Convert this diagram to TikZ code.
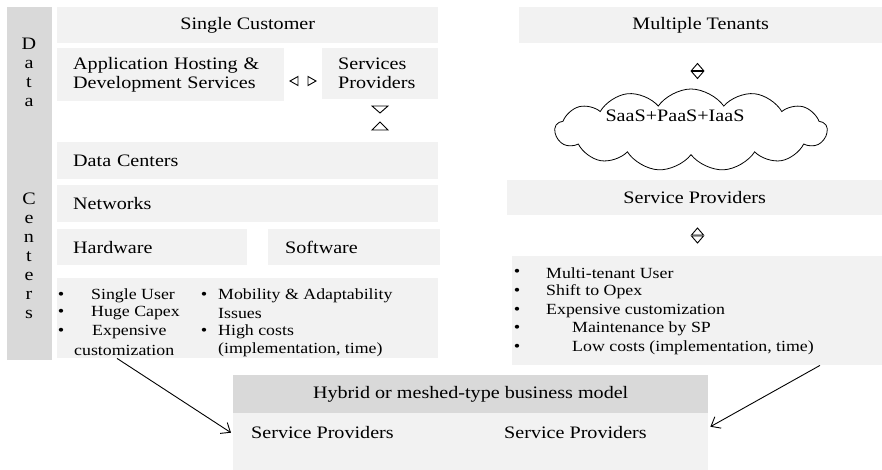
\documentclass[tikz,border=0pt]{standalone}
\usepackage{fontspec}
\setmainfont{Liberation Serif}[FakeStretch=1.15]
\usepackage{tikz}
\usetikzlibrary{shapes.symbols,arrows.meta,positioning}
\definecolor{panelgray}{HTML}{F2F2F2}
\definecolor{bargray}{HTML}{D9D9D9}

\begin{document}
\begin{tikzpicture}[
    x=1pt, y=-1pt,
    font=\fontsize{17.5}{19}\selectfont,
    panel/.style={fill=panelgray, anchor=north west, inner sep=0pt},
    bar/.style={fill=bargray, anchor=north west, inner sep=0pt},
    lefttext/.style={align=left, inner xsep=16pt},
    itemtext/.style={font=\fontsize{15.5}{18}\selectfont, anchor=west, inner sep=0pt},
    dot/.style={font=\fontsize{16}{16}\selectfont, inner sep=0pt},
    tri/.style={draw, line width=0.9pt, line join=miter},
    arrow/.style={-{Straight Barb[length=8pt, width=13pt]}, line width=0.9pt},
    trileft/.pic={\draw[tri] (4,-4.5) -- (4,4.5) -- (-4,0) -- cycle;},
    triright/.pic={\draw[tri] (-4,-4.5) -- (-4,4.5) -- (4,0) -- cycle;},
    triupwide/.pic={\draw[tri] (-8,4) -- (8,4) -- (0,-4) -- cycle;},
    tridownwide/.pic={\draw[tri] (-8,-3.5) -- (8,-3.5) -- (0,3.5) -- cycle;},
    triup/.pic={\draw[tri] (-6,3.5) -- (6,3.5) -- (0,-3.5) -- cycle;},
    tridown/.pic={\draw[tri] (-6,-3.5) -- (6,-3.5) -- (0,3.5) -- cycle;}
]
\useasboundingbox (0,0) rectangle (882,470);

% data centre side bar
\node[bar, minimum width=45pt, minimum height=353pt] (side) at (7,7) {};
\node[align=center] (dword) at (29,72) {D\\a\\t\\a};
\node[align=center] (cword) at (29,256) {C\\e\\n\\t\\e\\r\\s};

% single customer stack
\node[panel, minimum width=381pt, minimum height=36pt] (single) at (57,7) {Single Customer};
\node[panel, lefttext, minimum height=53pt, text width=195pt] (apphost) at (57,48) {Application Hosting \&\\Development Services};
\node[panel, lefttext, minimum height=51pt, text width=84pt] (svcprov) at (322,48) {Services\\Providers};
\node[panel, lefttext, minimum height=37pt, text width=349pt] (dcenter) at (57,142) {Data Centers};
\node[panel, lefttext, minimum height=37pt, text width=349pt] (network) at (57,185) {Networks};
\node[panel, lefttext, minimum height=36pt, text width=158pt] (hardware) at (57,229) {Hardware};
\node[panel, lefttext, minimum height=36pt, text width=138pt, inner xsep=17pt] (software) at (268,229) {Software};
\node[panel, minimum width=381pt, minimum height=80pt] (lbul) at (57,278) {};

\pic at (294,81) {trileft};
\pic at (312,81) {triright};
\pic at (380,109.5) {tridownwide};
\pic at (380,126) {triupwide};

\foreach \y [count=\i] in {296,313,332}
  \node[dot] (ldot\i) at (61,\y) {•};
\foreach \t/\x/\y [count=\i] in {Single User/91/296, Huge Capex/91/313, Expensive/92/332, customization/74/350}
  \node[itemtext] (lone\i) at (\x,\y) {\t};
\foreach \y [count=\i] in {296,332}
  \node[dot] (mdot\i) at (204,\y) {•};
\foreach \t/\y [count=\i] in {Mobility \& Adaptability/296, Issues/313, High costs/332, {(implementation, time)}/350}
  \node[itemtext] (ltwo\i) at (218,\y) {\t};

% multi tenant stack
\node[panel, minimum width=363pt, minimum height=36pt] (tenants) at (519,7) {Multiple Tenants};
\pic at (697.5,67) {triup};
\pic at (697.5,75) {tridown};
\node[cloud, cloud puffs=13, cloud puff arc=110, cloud ignores aspect, draw, fill=white, line width=0.8pt,
      minimum width=272pt, minimum height=82pt] (cloud) at (691,130) {};
\node (saas) at (675,116) {SaaS+PaaS+IaaS};
\node[panel, minimum width=375pt, minimum height=35pt] (sprov) at (507,180) {Service Providers};
\pic at (697.5,231.5) {triup};
\pic at (697.5,239.5) {tridown};
\node[panel, minimum width=370pt, minimum height=109pt] (rbul) at (512,256) {};
\foreach \t/\x/\y [count=\i] in {Multi-tenant User/546/273, Shift to Opex/546/292, Expensive customization/546/311, Maintenance by SP/572/329, {Low costs (implementation, time)}/572/348}
  {\node[dot] (rdot\i) at (517,\y) {•};
   \node[itemtext] (ritem\i) at (\x,\y) {\t};}

% hybrid model
\node[panel, minimum width=475pt, minimum height=95pt] (hybrid) at (233,375) {};
\node[bar, minimum width=475pt, minimum height=38pt] (hyhead) at (233,375) {Hybrid or meshed-type business model};
\node[anchor=west, inner sep=0pt] (hsp1) at (251,433) {Service Providers};
\node[anchor=west, inner sep=0pt] (hsp2) at (504,433) {Service Providers};

\draw[arrow] ([xshift=60pt]lbul.south west) -- ([xshift=-2pt,yshift=-10pt]hybrid.west);
\draw[arrow] ([xshift=308pt]rbul.south west) -- ([xshift=2pt,yshift=-4pt]hybrid.east);
\end{tikzpicture}
\end{document}
